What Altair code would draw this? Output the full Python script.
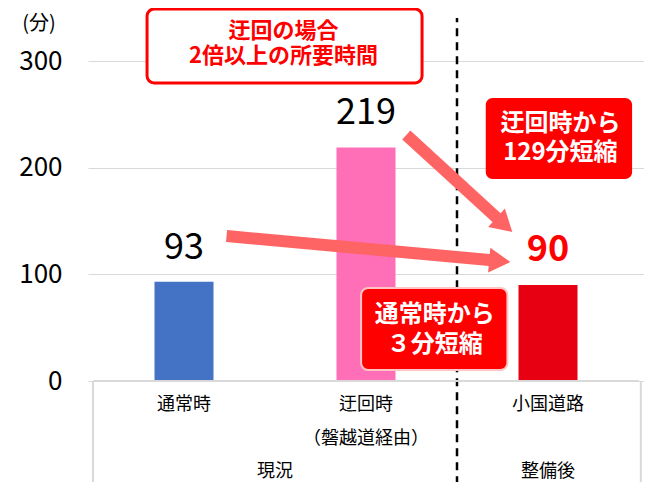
import altair as alt
import pandas as pd

FONT = "Noto Sans CJK JP"

# ---- data ----
categories = ["通常時", "迂回時", "小国道路"]
cat_pos = [0.5, 1.5, 2.5]
minutes = [93, 219, 90]
bar_colors = ["#4472C4", "#FF6FB7", "#E60012"]
value_labels = ["93", "219", "90"]
sub_labels = ["", "（磐越道経由）", ""]
groups = ["現況", "整備後"]
group_pos = [1.0, 2.5]
y_ticks = [0, 100, 200, 300]

# annotation boxes (data units)
box_x = [0.297, 2.158, 1.473]
box_x2 = [1.808, 2.962, 2.277]
box_y = [279.4, 189.4, 10.3]
box_y2 = [348.7, 265.3, 87.2]

note_text = ["迂回の場合", "2倍以上の所要時間", "迂回時から", "129分短縮", "通常時から", "３分短縮"]
note_x = [1.047, 1.047, 2.568, 2.568, 1.878, 1.878]
note_y = [328.1, 304.7, 240.9, 213.3, 61.9, 33.75]

# arrows (data units)
arrow_x0 = [0.7338, 1.7213]
arrow_y0 = [135.94, 230.6]
arrow_xb = [2.2075, 2.2398]
arrow_yb = [112.9, 149.7]
arrow_xt = [2.2932, 2.3040]
arrow_yt = [111.56, 139.69]
arrow_angle = [5.1, 41.9]

xs = alt.Scale(domain=[0, 3], nice=False, zero=False)
ys = alt.Scale(domain=[0, 300], nice=False)
y_axis = alt.Axis(values=y_ticks, grid=True, gridColor="#D9D9D9", gridWidth=1,
                  domain=False, ticks=False, labelFontSize=26, labelColor="#000000",
                  labelPadding=26, labelFont=FONT, title=None)


def X(f):
    return alt.X(f, type="quantitative", scale=xs, axis=None)


def Y(f):
    return alt.Y(f, type="quantitative", scale=ys, axis=y_axis)


bars_df = pd.DataFrame({"cat": categories, "pos": cat_pos, "v": minutes,
                        "col": bar_colors, "lab": value_labels, "sub": sub_labels})

bars = alt.Chart(bars_df).mark_bar(size=59).encode(
    x=X("pos"),
    y=Y("v"),
    color=alt.Color("col:N", scale=None),
)

vals_black = alt.Chart(bars_df.iloc[:2]).mark_text(
    font=FONT, fontSize=36, dy=-34, baseline="middle", color="#000000"
).encode(x=X("pos"), y=Y("v"), text="lab:N")

vals_red = alt.Chart(bars_df.iloc[2:]).mark_text(
    font=FONT, fontSize=36, fontWeight="bold", dy=-35, baseline="middle", color="#FF0000"
).encode(x=X("pos"), y=Y("v"), text="lab:N")

# table lines
base_df = pd.DataFrame({"x": [0.0], "x2": [3.0], "y": [0.0]})
base_rule = alt.Chart(base_df).mark_rule(color="#D9D9D9", strokeWidth=2).encode(
    x=X("x"), x2="x2", y=Y("y"))

vb_df = pd.DataFrame({"x": [0.0, 3.01], "y": [0.0, 0.0], "y2": [-110.0, -110.0]})
vb_rule = alt.Chart(vb_df).mark_rule(color="#D9D9D9", strokeWidth=2).encode(
    x=X("x"), y=Y("y"), y2="y2")

dash_df = pd.DataFrame({"x": [2.0], "y": [-110.0], "y2": [340.3]})
dash_rule = alt.Chart(dash_df).mark_rule(color="#000000", strokeWidth=2.5,
                                         strokeDash=[8, 6]).encode(
    x=X("x"), y=Y("y"), y2="y2")

cat_df = pd.DataFrame({"pos": cat_pos, "cat": categories, "sub": sub_labels})
cat_text = alt.Chart(cat_df).mark_text(font=FONT, fontSize=18, color="#000000",
                                       baseline="middle").encode(
    x=X("pos"), y=Y("yy"), text="cat:N").transform_calculate(yy="-22.5")
sub_text = alt.Chart(cat_df).mark_text(font=FONT, fontSize=18, color="#000000",
                                       baseline="middle").encode(
    x=X("pos"), y=Y("yy"), text="sub:N").transform_calculate(yy="-54.4")

grp_df = pd.DataFrame({"pos": group_pos, "g": groups})
grp_text = alt.Chart(grp_df).mark_text(font=FONT, fontSize=18, color="#000000",
                                       baseline="middle").encode(
    x=X("pos"), y=Y("yy"), text="g:N").transform_calculate(yy="-85")

unit_df = pd.DataFrame({"x": [-0.297], "y": [334.7], "t": ["(分)"]})
unit_text = alt.Chart(unit_df).mark_text(font=FONT, fontSize=20, color="#000000",
                                         baseline="middle").encode(
    x=X("x"), y=Y("y"), text="t:N")

# boxes
box1 = alt.Chart(pd.DataFrame({"x": box_x[:1], "x2": box_x2[:1], "y": box_y[:1], "y2": box_y2[:1]})
                 ).mark_rect(fill="#FFFFFF", stroke="#FF0000", strokeWidth=3, cornerRadius=7).encode(
    x=X("x"), x2="x2", y=Y("y"), y2="y2")
box2 = alt.Chart(pd.DataFrame({"x": box_x[1:2], "x2": box_x2[1:2], "y": box_y[1:2], "y2": box_y2[1:2]})
                 ).mark_rect(fill="#FF0000", cornerRadius=7).encode(
    x=X("x"), x2="x2", y=Y("y"), y2="y2")
box3 = alt.Chart(pd.DataFrame({"x": box_x[2:], "x2": box_x2[2:], "y": box_y[2:], "y2": box_y2[2:]})
                 ).mark_rect(fill="#FF0000", stroke="#FFC4C4", strokeWidth=2, cornerRadius=7).encode(
    x=X("x"), x2="x2", y=Y("y"), y2="y2")

note_df = pd.DataFrame({"x": note_x, "y": note_y, "t": note_text})
note1 = alt.Chart(note_df.iloc[:2]).mark_text(font=FONT, fontSize=22, fontWeight="bold",
                                              color="#FF0000", baseline="middle").encode(
    x=X("x"), y=Y("y"), text="t:N")
note2 = alt.Chart(note_df.iloc[2:]).mark_text(font=FONT, fontSize=24, fontWeight="bold",
                                              color="#FFFFFF", baseline="middle").encode(
    x=X("x"), y=Y("y"), text="t:N")

arrow_df = pd.DataFrame({"x0": arrow_x0, "y0": arrow_y0, "xb": arrow_xb, "yb": arrow_yb,
                         "xt": arrow_xt, "yt": arrow_yt, "ang": arrow_angle})
ARROW = "#FF6464"
shafts = alt.Chart(arrow_df).mark_rule(color=ARROW, strokeWidth=12, strokeCap="butt").encode(
    x=X("x0"), y=Y("y0"), x2="xb", y2="yb")
heads = alt.Chart(arrow_df).mark_point(shape="M0,0L-1.7,-1L-1.7,1Z", filled=True, size=625,
                                       color=ARROW, opacity=1, strokeWidth=0).encode(
    x=X("xt"), y=Y("yt"), angle=alt.Angle("ang:Q", scale=None))

chart = alt.layer(
    bars, dash_rule, base_rule, vb_rule, box1, box2, box3, shafts, heads,
    vals_black, vals_red, cat_text, sub_text, grp_text, unit_text, note1, note2,
).properties(
    width=556, height=320,
    padding={"left": 80, "top": 53, "right": 0, "bottom": 101},
    autosize="none",
).configure(font=FONT, background="#FFFFFF", view=alt.ViewConfig(stroke=None))

chart.save("out.html", embed_options={"renderer": "svg", "actions": False})
